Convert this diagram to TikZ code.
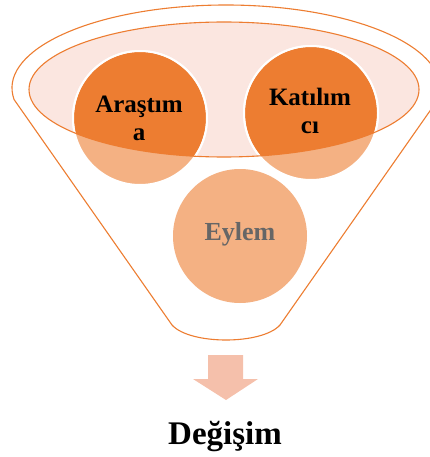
\documentclass[tikz,border=0pt]{standalone}
\usepackage{fontspec}
\setmainfont{Liberation Serif}
\definecolor{orD}{HTML}{ED7D31}
\definecolor{orL}{HTML}{F4B183}
\definecolor{pinkF}{HTML}{FBE6E0}
\definecolor{arrowC}{HTML}{F5C0AB}
\definecolor{grayT}{HTML}{666666}
\tikzset{
  funnelline/.style={draw=orD, line width=1.1pt},
  bubble/.style={circle, minimum size=134pt, inner sep=0pt, fill=orL, draw=white, line width=2pt},
  lbl/.style={font=\bfseries\fontsize{25}{28}\selectfont, align=center, text=black},
}
\begin{document}
\begin{tikzpicture}[x=1pt,y=1pt]
\useasboundingbox (0,0) rectangle (430,-457);
\clip (0,0) rectangle (430,-457);
% funnel body
\path[funnelline, fill=white] (226,-88) ++(188:214 and 83) coordinate (fl)
  arc[start angle=188, end angle=-8, x radius=214, y radius=83] coordinate (fr)
  -- (280,-325) coordinate (br)
  .. controls (262,-345) and (190,-345) .. (172,-325) coordinate (bl)
  -- cycle;
% bottom circle
\node[bubble, draw=none] (E) at (240,-236) {};
% inner ellipse fill
\fill[pinkF] (224,-89.5) ellipse[x radius=195, y radius=67.5];
% top circles
\node[bubble] (A) at (140,-118) {};
\node[bubble] (K) at (311,-113) {};
\begin{scope}
  \clip (224,-89.5) ellipse[x radius=195, y radius=67.5];
  \fill[orD] (A.center) circle (66);
  \fill[orD] (K.center) circle (66);
  \draw[white, line width=2pt] (A.center) circle (67);
  \draw[white, line width=2pt] (K.center) circle (67);
\end{scope}
\draw[funnelline] (224,-89.5) ellipse[x radius=195, y radius=67.5];
% labels
\node[lbl] (tA) at (139,-118) {Araştım\\a};
\node[lbl] (tK) at (310,-111) {Katılım\\cı};
\node[lbl, text=grayT, font=\bfseries\fontsize{26}{28}\selectfont] (tE) at (240,-234) {Eylem};
% arrow
\fill[arrowC] (208,-355) -- (243,-355) -- (243,-379) -- (258,-379) -- (226,-400)
  -- (193,-379) -- (208,-379) -- cycle;
\node[font=\bfseries\fontsize{33}{36}\selectfont] (D) at (225,-437) {Değişim};
\end{tikzpicture}
\end{document}
